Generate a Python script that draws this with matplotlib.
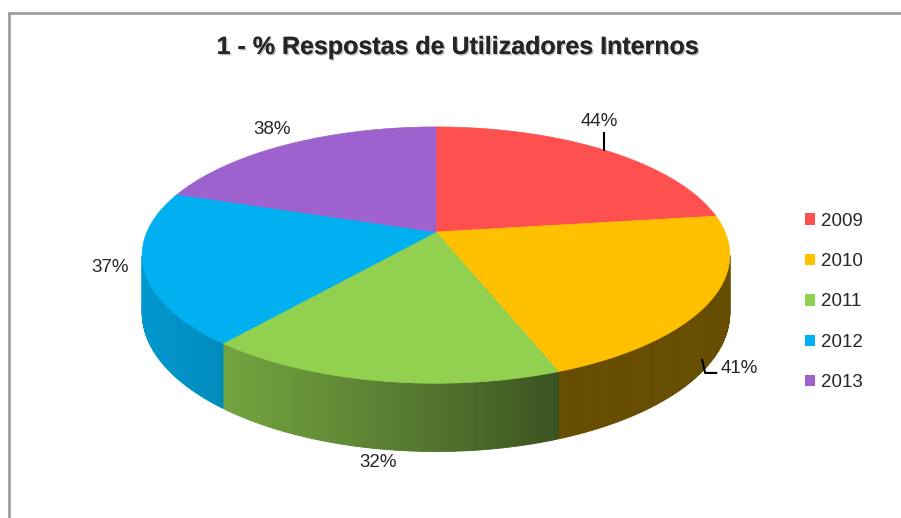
import numpy as np
import matplotlib.pyplot as plt
import matplotlib.patheffects as pe
from matplotlib.patches import Polygon, Patch
from matplotlib.colors import to_rgb

plt.rcParams['font.family'] = ['Liberation Sans', 'DejaVu Sans']

# data
years = ['2009', '2010', '2011', '2012', '2013']
pct = [44, 41, 32, 37, 38]
labels = ['44%', '41%', '32%', '37%', '38%']
colors = ['#FF5050', '#FFC000', '#92D050', '#00B0F0', '#9E62CE']
title = '1 - % Respostas de Utilizadores Internos'

# pie geometry (pixels) - simple perspective view
CX, CY = 436, 232
A, B, K = 289, 124, 0.18
DEPTH = 56


def proj(t_deg, r=1.0, z=0.0):
    t = np.radians(t_deg)
    u, v = r * np.cos(t), r * np.sin(t)
    den = 1 + K * v
    return CX + A * u / den, CY - B * v / den + z * DEPTH / den


def shade(t_deg):
    # darker towards the right, like the excel 3d pie walls
    return 0.4 + 0.45 * max(0.0, -np.cos(np.radians(t_deg - 20)))


fig = plt.figure(figsize=(9.01, 5.18), dpi=100)
ax = fig.add_axes([0, 0, 1, 1])
ax.set_xlim(0, 901)
ax.set_ylim(518, 0)
ax.axis('off')

# slices go clockwise from 12 o'clock
total = float(sum(pct))
ends = 90 - 360 * np.cumsum(pct) / total
starts = np.concatenate([[90], ends[:-1]])

# visible part of the side wall
t_lo = 180 + np.degrees(np.arcsin(K))
t_hi = 360 - np.degrees(np.arcsin(K))

for s, e, c in zip(starts, ends, colors):
    lo, hi = e % 360, e % 360 + (s - e)
    for off in (0, 360, -360):
        a0, a1 = max(lo + off, t_lo), min(hi + off, t_hi)
        if a1 <= a0:
            continue
        steps = np.linspace(a0, a1, max(2, int((a1 - a0) / 0.5) + 1))
        base = np.array(to_rgb(c))
        for t0, t1 in zip(steps[:-1], steps[1:]):
            col = np.clip(base * shade((t0 + t1) / 2), 0, 1)
            pts = [proj(t0), proj(t1), proj(t1, z=1), proj(t0, z=1)]
            ax.add_patch(Polygon(pts, closed=True, facecolor=col,
                                 edgecolor=col, linewidth=0.6, zorder=2))

# top faces
for s, e, c in zip(starts, ends, colors):
    ts = np.linspace(s, e, 120)
    pts = [proj(0, r=0)] + [proj(t) for t in ts]
    ax.add_patch(Polygon(pts, closed=True, facecolor=c, edgecolor=c,
                         linewidth=0.5, zorder=3))

# data labels
mids = (starts + ends) / 2
lab_off = [(-5, -28), (30, 5), (-1, 14), (-34, 0), (-17, -15)]
lab_z = [0, 1, 1, 0, 0]
for m, lab, (dx, dy), z in zip(mids, labels, lab_off, lab_z):
    x, y = proj(m, z=z)
    ax.text(x + dx, y + dy, lab, ha='center', va='center',
            fontsize=13.5, color='#262626', zorder=5)

# leader lines for 44% and 41%
x, y = proj(mids[0])
ax.plot([x, x], [y, y - 17], color='black', lw=1.5, zorder=4)
x, y = proj(mids[1], z=1)
ax.plot([x - 7, x - 4, x + 7], [y - 4, y + 9, y + 9], color='black', lw=1.5, zorder=4)

ax.text(458, 47, title, ha='center', va='center', fontsize=18,
        fontweight='bold', color='#262626', zorder=5,
        path_effects=[pe.withSimplePatchShadow(offset=(1, -1), alpha=0.25),
                      pe.Normal()])

# chart frame (only top and left visible)
ax.plot([9, 901], [13, 13], color='#A0A0A0', lw=2, zorder=1)
ax.plot([9, 9], [13, 518], color='#A0A0A0', lw=2, zorder=1)

handles = [Patch(facecolor=c, edgecolor='none') for c in colors]
fig.legend(handles, years, loc='center left', bbox_to_anchor=(805 / 901, 1 - 302 / 518),
           frameon=False, fontsize=13.5, handlelength=0.55, handleheight=0.55,
           handletextpad=0.3, labelspacing=1.25, borderpad=0, borderaxespad=0,
           labelcolor='#262626')

fig.savefig('out.png', dpi=100)
